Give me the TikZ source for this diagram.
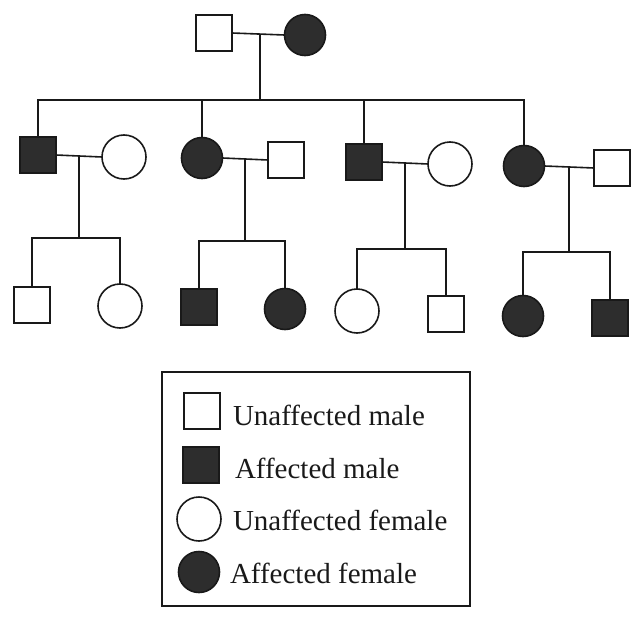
\documentclass[tikz,border=0pt]{standalone}
\usepackage{fontspec}
\setmainfont{Liberation Serif}
\usetikzlibrary{calc}
\definecolor{aff}{RGB}{45,45,45}
\definecolor{ink}{RGB}{25,25,25}
\begin{document}
\begin{tikzpicture}[x=1pt,y=-1pt,
  line width=1.6pt, draw=ink,
  every node/.style={inner sep=0pt, outer sep=0pt},
  male/.style={draw=ink, fill=white, rectangle, minimum size=36pt},
  amale/.style={draw=ink, fill=aff, rectangle, minimum size=36pt},
  female/.style={draw=ink, fill=white, circle, minimum size=44pt},
  afemale/.style={draw=ink, fill=aff, circle, minimum size=41pt},
  lbl/.style={anchor=base west, font=\fontsize{29}{34}\selectfont, text=ink}]
\useasboundingbox (0,0) rectangle (631,618);

% Generation I
\node[male] (I1) at (214,33) {};
\node[afemale] (I2) at (305,35) {};

% Generation II
\node[amale] (II1) at (38,155) {};
\node[female] (II1w) at (124,157) {};
\node[afemale] (II2) at (202,158) {};
\node[male] (II2h) at (286,160) {};
\node[amale] (II3) at (364,162) {};
\node[female] (II3w) at (450,164) {};
\node[afemale] (II4) at (524,166) {};
\node[male] (II4h) at (612,168) {};

% Generation III
\node[male] (III1) at (32,305) {};
\node[female] (III2) at (120,306) {};
\node[amale] (III3) at (199,307) {};
\node[afemale] (III4) at (285,309) {};
\node[female] (III5) at (357,311) {};
\node[male] (III6) at (446,314) {};
\node[afemale] (III7) at (523,316) {};
\node[amale] (III8) at (610,318) {};

% Mating lines
\draw (I1.east) -- (I2.west);
\draw (II1.east) -- (II1w.west);
\draw (II2.east) -- (II2h.west);
\draw (II3.east) -- (II3w.west);
\draw (II4.east) -- (II4h.west);

% Mid points of mating lines
\coordinate (m0) at (260,34);
\coordinate (m1) at ($(II1.east)!0.5!(II1w.west)$);
\coordinate (m2) at ($(II2.east)!0.5!(II2h.west)$);
\coordinate (m3) at ($(II3.east)!0.5!(II3w.west)$);
\coordinate (m4) at ($(II4.east)!0.5!(II4h.west)$);

% Sibship junctions
\coordinate (s0) at (m0 |- 0,100);
\coordinate (s1) at (m1 |- 0,238);
\coordinate (s2) at (m2 |- 0,241);
\coordinate (s3) at (m3 |- 0,249);
\coordinate (s4) at (m4 |- 0,252);

% Descent lines
\draw (m0) -- (s0);
\draw (II1.north) |- (s0) -| (II4.north);
\draw (II2.north) -- (II2.north |- s0);
\draw (II3.north) -- (II3.north |- s0);

\draw (m1) -- (s1);
\draw (III1.north) |- (s1) -| (III2.north);
\draw (m2) -- (s2);
\draw (III3.north) |- (s2) -| (III4.north);
\draw (m3) -- (s3);
\draw (III5.north) |- (s3) -| (III6.north);
\draw (m4) -- (s4);
\draw (III7.north) |- (s4) -| (III8.north);

% Legend
\draw[line width=1.4pt] (162,372) rectangle (470,606);
\node[male] (L1) at (202,411) {};
\node[amale] (L2) at (201,465) {};
\node[female] (L3) at (199,519) {};
\node[afemale] (L4) at (199,572) {};
\node[lbl] (t1) at (233,425) {Unaffected male};
\node[lbl] (t2) at (235,478) {Affected male};
\node[lbl] (t3) at (233,530) {Unaffected female};
\node[lbl] (t4) at (230,583) {Affected female};
\end{tikzpicture}
\end{document}
